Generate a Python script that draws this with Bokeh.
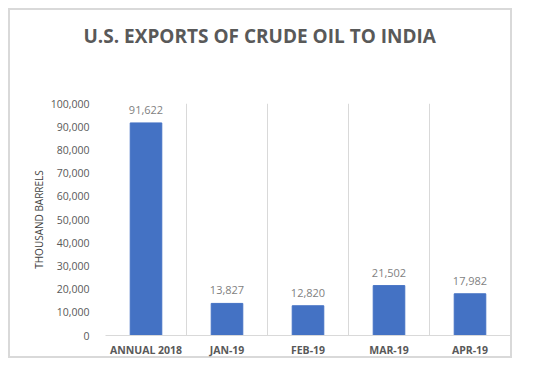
from bokeh.plotting import figure
from bokeh.layouts import column
from bokeh.models import (ColumnDataSource, FixedTicker, NumeralTickFormatter, LabelSet,
                          Range1d, Title)
from bokeh.core.properties import value
from bokeh.embed import file_html
from bokeh.resources import INLINE

title_text = "U.S. EXPORTS OF CRUDE OIL TO INDIA"
categories = ["ANNUAL 2018", "JAN-19", "FEB-19", "MAR-19", "APR-19"]
values = [91622, 13827, 12820, 21502, 17982]
y_ticks = [0, 10000, 20000, 30000, 40000, 50000, 60000, 70000, 80000, 90000, 100000]

n = len(categories)
centers = [i + 0.5 for i in range(n)]
src = ColumnDataSource(dict(x=centers, top=values, cat=categories,
                            label=[f"{v:,}" for v in values]))

p = figure(width=520, height=366, output_backend="svg", toolbar_location=None,
           x_range=Range1d(0, n), y_range=Range1d(0, 100000),
           min_border_left=105, min_border_right=10, min_border_top=103, min_border_bottom=31)
p.outline_line_color = None
p.background_fill_color = None
p.border_fill_color = None

# spacer between the frame and the title (closest to the frame)
spacer = Title(text=" ", text_font_size="1px", standoff=51)
p.add_layout(spacer, "above")
main_title = Title(text=title_text, align="left", offset=-22, standoff=2,
                   text_font="Open Sans", text_font_size="19px", text_font_style="bold",
                   text_color="#595959")
p.add_layout(main_title, "above")

p.vbar(x="x", top="top", width=0.39, source=src, fill_color="#4472C4", line_color="#4472C4")

labels = LabelSet(x="x", y="top", text="label", source=src, y_offset=13,
                  text_align="center", text_baseline="middle",
                  text_font=value("Open Sans"), text_font_size=value("11px"),
                  text_color="#7f7f7f")
p.add_layout(labels)

# x axis
p.xaxis.ticker = FixedTicker(ticks=centers)
p.xaxis.major_label_overrides = {c: cat for c, cat in zip(centers, categories)}
p.xaxis.major_tick_line_color = None
p.xaxis.minor_tick_line_color = None
p.xaxis.axis_line_color = "#d9d9d9"
p.xaxis.major_label_text_font = "Open Sans"
p.xaxis.major_label_text_font_size = "10.5px"
p.xaxis.major_label_text_font_style = "bold"
p.xaxis.major_label_text_color = "#595959"
p.xaxis.major_label_standoff = 1

# y axis
p.yaxis.ticker = FixedTicker(ticks=y_ticks)
p.yaxis.formatter = NumeralTickFormatter(format="0,0")
p.yaxis.major_tick_line_color = None
p.yaxis.minor_tick_line_color = None
p.yaxis.axis_line_color = None
p.yaxis.major_label_text_font = "Open Sans"
p.yaxis.major_label_text_font_size = "10.5px"
p.yaxis.major_label_text_color = "#595959"
p.yaxis.major_label_standoff = 10
p.yaxis.axis_label = "THOUSAND BARRELS"
p.yaxis.axis_label_text_font = "Open Sans"
p.yaxis.axis_label_text_font_size = "10px"
p.yaxis.axis_label_text_font_style = "normal"
p.yaxis.axis_label_text_color = "#404040"
p.yaxis.axis_label_standoff = 2

p.xgrid.ticker = FixedTicker(ticks=list(range(n + 1)))
p.xgrid.grid_line_color = "#d9d9d9"
p.ygrid.visible = False

layout = column(p, styles={"outline": "1px solid #d9d9d9", "outline-offset": "-9px",
                           "box-shadow": "inset 0 0 0 9px #ffffff, inset 0 0 0 10px #d9d9d9",
                           "background-color": "#ffffff"})

open("out.html", "w").write(file_html(layout, INLINE))
